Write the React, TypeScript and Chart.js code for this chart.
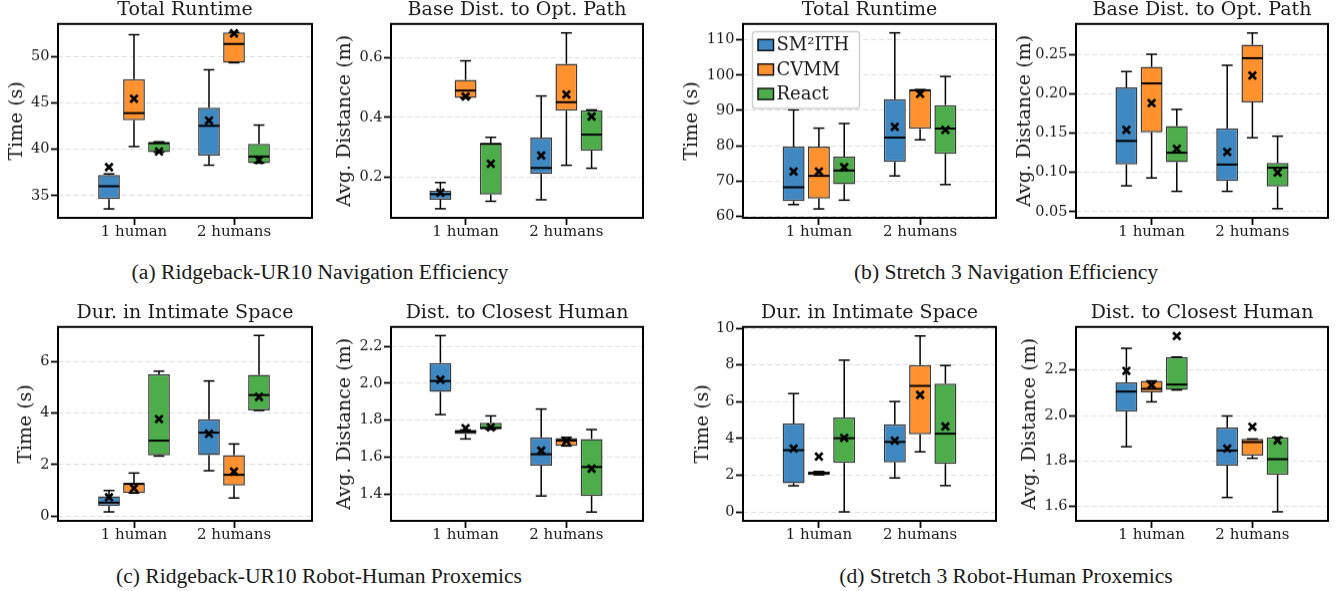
import React, { useEffect, useRef } from 'react';
import { Chart, registerables } from 'chart.js';

Chart.register(...registerables);

const GROUPS = ['1 human', '2 humans'];
const METHODS = ['SM²ITH', 'CVMM', 'React'];
const COLORS = ['#3f88c2', '#ff912e', '#4cad4a'];

// each row: [low whisker, Q1, median, Q3, high whisker, mean] — first row 1 human, second row 2 humans
const UR_RUNTIME_SM2ITH = [[33.57, 34.64, 36.01, 37.23, 37.34, 38.06], [38.28, 39.32, 42.52, 44.46, 48.56, 43.09]];
const UR_RUNTIME_CVMM = [[40.29, 43.13, 43.89, 47.56, 52.34, 45.44], [49.32, 49.32, 51.34, 52.59, 52.59, 52.48]];
const UR_RUNTIME_REACT = [[39.68, 39.68, 40.65, 40.76, 40.8, 39.75], [38.5, 38.5, 39.21, 40.58, 42.6, 38.85]];

const UR_PATH_SM2ITH = [[0.093, 0.123, 0.142, 0.154, 0.181, 0.147], [0.123, 0.21, 0.23, 0.332, 0.472, 0.272]];
const UR_PATH_CVMM = [[0.465, 0.465, 0.49, 0.526, 0.59, 0.47], [0.239, 0.422, 0.451, 0.58, 0.684, 0.477]];
const UR_PATH_REACT = [[0.118, 0.141, 0.311, 0.313, 0.333, 0.244], [0.229, 0.288, 0.342, 0.424, 0.425, 0.403]];

const ST_RUNTIME_SM2ITH = [[63.3, 64.27, 68.2, 79.75, 90.15, 72.66], [71.44, 75.4, 82.3, 93.18, 111.98, 85.33]];
const ST_RUNTIME_CVMM = [[62.08, 65.0, 71.44, 79.75, 84.97, 72.66], [81.65, 84.77, 95.7, 95.9, 95.9, 94.7]];
const ST_RUNTIME_REACT = [[64.55, 69.08, 72.95, 76.9, 86.27, 73.9], [68.97, 77.68, 84.85, 91.5, 99.6, 84.48]];

const ST_PATH_SM2ITH = [[0.083, 0.11, 0.14, 0.208, 0.228, 0.154], [0.076, 0.089, 0.11, 0.156, 0.236, 0.126]];
const ST_PATH_CVMM = [[0.093, 0.151, 0.213, 0.234, 0.25, 0.188], [0.144, 0.189, 0.245, 0.262, 0.277, 0.223]];
const ST_PATH_REACT = [[0.076, 0.113, 0.125, 0.159, 0.18, 0.13], [0.054, 0.082, 0.106, 0.112, 0.146, 0.1]];

const UR_INTIMATE_SM2ITH = [[0.16, 0.39, 0.52, 0.77, 0.99, 0.73], [1.76, 2.37, 3.24, 3.76, 5.25, 3.2]];
const UR_INTIMATE_CVMM = [[0.89, 0.89, 1.25, 1.27, 1.67, 1.08], [0.7, 1.19, 1.6, 2.37, 2.8, 1.73]];
const UR_INTIMATE_REACT = [[2.33, 2.36, 2.93, 5.51, 5.63, 3.77], [4.1, 4.1, 4.7, 5.49, 7.02, 4.63]];

const UR_CLOSEST_SM2ITH = [[1.83, 1.953, 2.012, 2.11, 2.258, 2.019], [1.389, 1.553, 1.615, 1.707, 1.86, 1.635]];
const UR_CLOSEST_CVMM = [[1.698, 1.725, 1.738, 1.747, 1.747, 1.756], [1.66, 1.66, 1.689, 1.703, 1.707, 1.687]];
const UR_CLOSEST_REACT = [[1.75, 1.75, 1.758, 1.786, 1.823, 1.761], [1.302, 1.389, 1.546, 1.698, 1.749, 1.537]];

const ST_INTIMATE_SM2ITH = [[1.42, 1.56, 3.36, 4.81, 6.44, 3.45], [1.85, 2.7, 3.81, 4.77, 6.01, 3.88]];
const ST_INTIMATE_CVMM = [[2.01, 2.01, 2.11, 2.2, 2.2, 3.01], [3.27, 4.23, 6.86, 7.99, 9.58, 6.37]];
const ST_INTIMATE_REACT = [[0.0, 2.67, 4.01, 5.14, 8.26, 4.03], [1.43, 2.61, 4.26, 6.99, 7.97, 4.65]];

const ST_CLOSEST_SM2ITH = [[1.863, 2.017, 2.105, 2.146, 2.295, 2.196], [1.64, 1.779, 1.846, 1.947, 1.998, 1.855]];
const ST_CLOSEST_CVMM = [[2.06, 2.102, 2.117, 2.152, 2.152, 2.134], [1.812, 1.824, 1.883, 1.897, 1.897, 1.95]];
const ST_CLOSEST_REACT = [[2.112, 2.112, 2.136, 2.257, 2.257, 2.349], [1.577, 1.739, 1.808, 1.904, 1.904, 1.891]];

const CAPTIONS = [
  '(a) Ridgeback-UR10 Navigation Efficiency',
  '(b) Stretch 3 Navigation Efficiency',
  '(c) Ridgeback-UR10 Robot-Human Proxemics',
  '(d) Stretch 3 Robot-Human Proxemics',
];

const FONT = "'DejaVu Serif', serif";
const TEXT = '#1a1a1a';
const EDGE = '#3a3a3a';
const Y_AXIS_W = 62;
const TITLE_H = 19 * 1.2 + 2;
const X_AXIS_H = 34;
const RIGHT_PAD = 4;

type PanelCfg = {
  left: number; top: number; right: number; bottom: number;
  title: string; yTitle: string; yTitleDist: number;
  yMin: number; yMax: number; step: number; dec: number;
  xMin: number; xMax: number;
  series: number[][][];
  legend?: boolean;
};

const PANELS: PanelCfg[] = [
  { left: 58, top: 24, right: 312, bottom: 218, title: 'Total Runtime', yTitle: 'Time (s)', yTitleDist: 40.5,
    yMin: 32.6, yMax: 53.5, step: 5, dec: 0, xMin: -0.76, xMax: 1.78,
    series: [UR_RUNTIME_SM2ITH, UR_RUNTIME_CVMM, UR_RUNTIME_REACT] },
  { left: 391, top: 24, right: 643, bottom: 218, title: 'Base Dist. to Opt. Path', yTitle: 'Avg. Distance (m)', yTitleDist: 45.7,
    yMin: 0.0622, yMax: 0.714, step: 0.2, dec: 1, xMin: -0.74, xMax: 1.76,
    series: [UR_PATH_SM2ITH, UR_PATH_CVMM, UR_PATH_REACT] },
  { left: 743, top: 24, right: 996, bottom: 218, title: 'Total Runtime', yTitle: 'Time (s)', yTitleDist: 51,
    yMin: 59.53, yMax: 114.5, step: 10, dec: 0, xMin: -0.75, xMax: 1.75,
    series: [ST_RUNTIME_SM2ITH, ST_RUNTIME_CVMM, ST_RUNTIME_REACT], legend: true },
  { left: 1076, top: 24, right: 1328, bottom: 218, title: 'Base Dist. to Opt. Path', yTitle: 'Avg. Distance (m)', yTitleDist: 51,
    yMin: 0.0423, yMax: 0.2885, step: 0.05, dec: 2, xMin: -0.75, xMax: 1.75,
    series: [ST_PATH_SM2ITH, ST_PATH_CVMM, ST_PATH_REACT] },
  { left: 58, top: 327, right: 312, bottom: 521, title: 'Dur. in Intimate Space', yTitle: 'Time (s)', yTitleDist: 31.6,
    yMin: -0.19, yMax: 7.35, step: 2, dec: 0, xMin: -0.76, xMax: 1.78,
    series: [UR_INTIMATE_SM2ITH, UR_INTIMATE_CVMM, UR_INTIMATE_REACT] },
  { left: 391, top: 327, right: 643, bottom: 521, title: 'Dist. to Closest Human', yTitle: 'Avg. Distance (m)', yTitleDist: 45.7,
    yMin: 1.254, yMax: 2.305, step: 0.2, dec: 1, xMin: -0.74, xMax: 1.76,
    series: [UR_CLOSEST_SM2ITH, UR_CLOSEST_CVMM, UR_CLOSEST_REACT] },
  { left: 743, top: 327, right: 996, bottom: 521, title: 'Dur. in Intimate Space', yTitle: 'Time (s)', yTitleDist: 40,
    yMin: -0.49, yMax: 10.07, step: 2, dec: 0, xMin: -0.75, xMax: 1.75,
    series: [ST_INTIMATE_SM2ITH, ST_INTIMATE_CVMM, ST_INTIMATE_REACT] },
  { left: 1076, top: 327, right: 1328, bottom: 521, title: 'Dist. to Closest Human', yTitle: 'Avg. Distance (m)', yTitleDist: 46,
    yMin: 1.537, yMax: 2.389, step: 0.2, dec: 1, xMin: -0.75, xMax: 1.75,
    series: [ST_CLOSEST_SM2ITH, ST_CLOSEST_CVMM, ST_CLOSEST_REACT] },
];

const CAPTION_POS = [
  { cx: 320, cy: 272 },
  { cx: 1006, cy: 272 },
  { cx: 319, cy: 576 },
  { cx: 1006, cy: 576 },
];

function line(ctx: CanvasRenderingContext2D, x1: number, y1: number, x2: number, y2: number) {
  ctx.beginPath();
  ctx.moveTo(x1, y1);
  ctx.lineTo(x2, y2);
  ctx.stroke();
}

function BoxPanel({ cfg }: { cfg: PanelCfg }) {
  const ref = useRef<HTMLCanvasElement | null>(null);
  const plotW = cfg.right - cfg.left;
  const plotH = cfg.bottom - cfg.top;
  const W = Y_AXIS_W + plotW + RIGHT_PAD;
  const H = TITLE_H + plotH + X_AXIS_H;

  useEffect(() => {
    const canvas = ref.current;
    if (!canvas) return;

    const datasets = METHODS.map((m, k) => ({
      label: m,
      data: cfg.series[k].map((r, gi) => ({ x: gi, y: [r[1], r[3]] })),
      backgroundColor: COLORS[k],
      borderColor: EDGE,
      borderWidth: 1.5,
      borderSkipped: false as const,
      categoryPercentage: 0.75,
      barPercentage: 0.87,
    }));

    const boxPlugin = {
      id: 'boxExtras',
      afterDatasetsDraw(chart: any) {
        const ctx: CanvasRenderingContext2D = chart.ctx;
        const ys = chart.scales.y;
        const gp = (v: number) => ys.getPixelForValue(v);
        ctx.save();
        ctx.strokeStyle = '#000';
        ctx.lineCap = 'butt';
        cfg.series.forEach((rows, k) => {
          const meta = chart.getDatasetMeta(k);
          rows.forEach((r, gi) => {
            const el: any = meta.data[gi];
            if (!el) return;
            const cx = el.x;
            const w = el.width;
            const [lo, q1, med, q3, hi, mean] = r;
            ctx.lineWidth = 1.5;
            line(ctx, cx, gp(q3), cx, gp(hi));
            line(ctx, cx, gp(q1), cx, gp(lo));
            line(ctx, cx - w / 4, gp(hi), cx + w / 4, gp(hi));
            line(ctx, cx - w / 4, gp(lo), cx + w / 4, gp(lo));
            ctx.lineWidth = 2;
            line(ctx, cx - w / 2 + 0.5, gp(med), cx + w / 2 - 0.5, gp(med));
            const my = gp(mean);
            const s = 3.7;
            ctx.lineWidth = 2.7;
            line(ctx, cx - s, my - s, cx + s, my + s);
            line(ctx, cx - s, my + s, cx + s, my - s);
          });
        });
        ctx.restore();
      },
      afterDraw(chart: any) {
        const ctx: CanvasRenderingContext2D = chart.ctx;
        const a = chart.chartArea;
        ctx.save();
        if (cfg.legend) {
          const lx = a.left + 9.5;
          const ly = a.top + 7.7;
          const lw = 107;
          const lh = 76.5;
          ctx.beginPath();
          (ctx as any).roundRect(lx, ly, lw, lh, 3);
          ctx.fillStyle = 'rgba(255,255,255,0.85)';
          ctx.fill();
          ctx.strokeStyle = '#cfcfcf';
          ctx.lineWidth = 1.5;
          ctx.stroke();
          ctx.font = `18px ${FONT}`;
          ctx.textBaseline = 'middle';
          ctx.textAlign = 'left';
          chart.data.datasets.forEach((ds: any, i: number) => {
            const cy = a.top + 21 + i * 24.4;
            ctx.fillStyle = ds.backgroundColor;
            ctx.fillRect(a.left + 15, cy - 5.5, 15.5, 11);
            ctx.strokeStyle = '#111';
            ctx.lineWidth = 1.5;
            ctx.strokeRect(a.left + 15, cy - 5.5, 15.5, 11);
            ctx.fillStyle = TEXT;
            ctx.fillText(ds.label, a.left + 33.5, cy + 1);
          });
        }
        ctx.strokeStyle = '#000';
        ctx.lineWidth = 2;
        ctx.strokeRect(a.left, a.top, a.right - a.left, a.bottom - a.top);
        ctx.restore();
      },
    };

    const chart = new Chart(canvas, {
      type: 'bar',
      data: { datasets: datasets as any },
      options: {
        animation: false,
        responsive: false,
        maintainAspectRatio: false,
        layout: { padding: { left: 0, right: RIGHT_PAD, top: 0, bottom: 0 } },
        plugins: {
          legend: { display: false },
          tooltip: { enabled: false },
          title: {
            display: true,
            text: cfg.title,
            fullSize: false,
            color: TEXT,
            font: { family: FONT, size: 19, weight: 'normal', lineHeight: 1.2 },
            padding: { top: 0, bottom: 2 },
          },
        },
        scales: {
          x: {
            type: 'linear',
            min: cfg.xMin,
            max: cfg.xMax,
            offset: false,
            grid: {
              display: true,
              offset: false,
              drawOnChartArea: false,
              drawTicks: true,
              tickLength: 7,
              tickColor: '#000',
              tickWidth: 1.8,
            },
            border: { display: false },
            ticks: {
              stepSize: 1,
              includeBounds: false,
              autoSkip: false,
              maxRotation: 0,
              padding: 0,
              color: TEXT,
              font: { family: FONT, size: 15, lineHeight: 1 },
              callback: (v: any) => GROUPS[Number(v)] ?? '',
            },
            afterFit: (scale: any) => { scale.height = X_AXIS_H; },
          } as any,
          y: {
            type: 'linear',
            min: cfg.yMin,
            max: cfg.yMax,
            beginAtZero: false,
            grid: {
              display: true,
              color: '#dddddd',
              lineWidth: 1,
              drawTicks: true,
              tickLength: 7,
              tickColor: '#000',
              tickWidth: 1.8,
              tickBorderDash: [],
            },
            border: { display: false, dash: [5, 3] },
            ticks: {
              stepSize: cfg.step,
              includeBounds: false,
              padding: 1.5,
              color: TEXT,
              font: { family: FONT, size: 14.5, lineHeight: 1 },
              callback: (v: any) => Number(v).toFixed(cfg.dec),
            },
            title: {
              display: true,
              text: cfg.yTitle,
              color: TEXT,
              font: { family: FONT, size: 19, lineHeight: 1 },
              padding: { top: Y_AXIS_W - cfg.yTitleDist - 9.5, bottom: 0 },
            },
            afterFit: (scale: any) => { scale.width = Y_AXIS_W; },
          } as any,
        },
      },
      plugins: [boxPlugin],
    });
    return () => chart.destroy();
  }, []);

  return (
    <canvas
      ref={ref}
      width={W}
      height={H}
      style={{
        position: 'absolute',
        left: cfg.left - Y_AXIS_W,
        top: cfg.top - TITLE_H,
        width: W,
        height: H,
      }}
    />
  );
}

export default function App() {
  return (
    <div style={{ position: 'absolute', left: 0, top: 0, width: 1337, height: 591, background: '#fff', overflow: 'hidden' }}>
      {PANELS.map((p, i) => (
        <BoxPanel key={i} cfg={p} />
      ))}
      {CAPTIONS.map((c, i) => (
        <div
          key={'c' + i}
          style={{
            position: 'absolute',
            left: CAPTION_POS[i].cx,
            top: CAPTION_POS[i].cy - 11,
            transform: 'translateX(-50%)',
            whiteSpace: 'nowrap',
            fontFamily: "'Liberation Serif', serif",
            fontSize: 21.6,
            lineHeight: '22px',
            color: TEXT,
          }}
        >
          {c}
        </div>
      ))}
    </div>
  );
}
